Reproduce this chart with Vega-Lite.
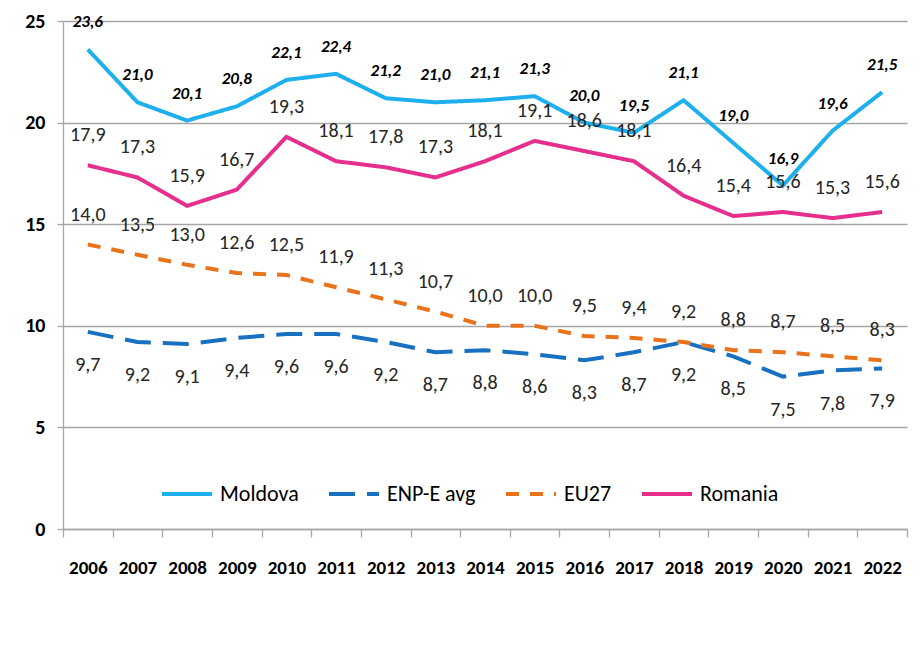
{
  "$schema": "https://vega.github.io/schema/vega-lite/v6.json",
  "width": 844,
  "height": 508,
  "autosize": "none",
  "padding": {"left": 63, "top": 21, "right": 13, "bottom": 116},
  "background": "white",
  "config": {
    "locale": {"number": {"decimal": ",", "thousands": ".", "grouping": [3], "currency": ["", " €"]}},
    "view": {"stroke": null},
    "font": "Carlito, Lato, sans-serif"
  },
  "data": {
    "values": [
      {"year": "2006", "series": "Moldova", "value": 23.6},
      {"year": "2007", "series": "Moldova", "value": 21.0},
      {"year": "2008", "series": "Moldova", "value": 20.1},
      {"year": "2009", "series": "Moldova", "value": 20.8},
      {"year": "2010", "series": "Moldova", "value": 22.1},
      {"year": "2011", "series": "Moldova", "value": 22.4},
      {"year": "2012", "series": "Moldova", "value": 21.2},
      {"year": "2013", "series": "Moldova", "value": 21.0},
      {"year": "2014", "series": "Moldova", "value": 21.1},
      {"year": "2015", "series": "Moldova", "value": 21.3},
      {"year": "2016", "series": "Moldova", "value": 20.0},
      {"year": "2017", "series": "Moldova", "value": 19.5},
      {"year": "2018", "series": "Moldova", "value": 21.1},
      {"year": "2019", "series": "Moldova", "value": 19.0},
      {"year": "2020", "series": "Moldova", "value": 16.9},
      {"year": "2021", "series": "Moldova", "value": 19.6},
      {"year": "2022", "series": "Moldova", "value": 21.5},
      {"year": "2006", "series": "ENP-E avg", "value": 9.7},
      {"year": "2007", "series": "ENP-E avg", "value": 9.2},
      {"year": "2008", "series": "ENP-E avg", "value": 9.1},
      {"year": "2009", "series": "ENP-E avg", "value": 9.4},
      {"year": "2010", "series": "ENP-E avg", "value": 9.6},
      {"year": "2011", "series": "ENP-E avg", "value": 9.6},
      {"year": "2012", "series": "ENP-E avg", "value": 9.2},
      {"year": "2013", "series": "ENP-E avg", "value": 8.7},
      {"year": "2014", "series": "ENP-E avg", "value": 8.8},
      {"year": "2015", "series": "ENP-E avg", "value": 8.6},
      {"year": "2016", "series": "ENP-E avg", "value": 8.3},
      {"year": "2017", "series": "ENP-E avg", "value": 8.7},
      {"year": "2018", "series": "ENP-E avg", "value": 9.2},
      {"year": "2019", "series": "ENP-E avg", "value": 8.5},
      {"year": "2020", "series": "ENP-E avg", "value": 7.5},
      {"year": "2021", "series": "ENP-E avg", "value": 7.8},
      {"year": "2022", "series": "ENP-E avg", "value": 7.9},
      {"year": "2006", "series": "EU27", "value": 14.0},
      {"year": "2007", "series": "EU27", "value": 13.5},
      {"year": "2008", "series": "EU27", "value": 13.0},
      {"year": "2009", "series": "EU27", "value": 12.6},
      {"year": "2010", "series": "EU27", "value": 12.5},
      {"year": "2011", "series": "EU27", "value": 11.9},
      {"year": "2012", "series": "EU27", "value": 11.3},
      {"year": "2013", "series": "EU27", "value": 10.7},
      {"year": "2014", "series": "EU27", "value": 10.0},
      {"year": "2015", "series": "EU27", "value": 10.0},
      {"year": "2016", "series": "EU27", "value": 9.5},
      {"year": "2017", "series": "EU27", "value": 9.4},
      {"year": "2018", "series": "EU27", "value": 9.2},
      {"year": "2019", "series": "EU27", "value": 8.8},
      {"year": "2020", "series": "EU27", "value": 8.7},
      {"year": "2021", "series": "EU27", "value": 8.5},
      {"year": "2022", "series": "EU27", "value": 8.3},
      {"year": "2006", "series": "Romania", "value": 17.9},
      {"year": "2007", "series": "Romania", "value": 17.3},
      {"year": "2008", "series": "Romania", "value": 15.9},
      {"year": "2009", "series": "Romania", "value": 16.7},
      {"year": "2010", "series": "Romania", "value": 19.3},
      {"year": "2011", "series": "Romania", "value": 18.1},
      {"year": "2012", "series": "Romania", "value": 17.8},
      {"year": "2013", "series": "Romania", "value": 17.3},
      {"year": "2014", "series": "Romania", "value": 18.1},
      {"year": "2015", "series": "Romania", "value": 19.1},
      {"year": "2016", "series": "Romania", "value": 18.6},
      {"year": "2017", "series": "Romania", "value": 18.1},
      {"year": "2018", "series": "Romania", "value": 16.4},
      {"year": "2019", "series": "Romania", "value": 15.4},
      {"year": "2020", "series": "Romania", "value": 15.6},
      {"year": "2021", "series": "Romania", "value": 15.3},
      {"year": "2022", "series": "Romania", "value": 15.6}
    ]
  },
  "encoding": {
    "x": {
      "field": "year",
      "type": "ordinal",
      "scale": {"type": "band", "paddingInner": 0, "paddingOuter": 0},
      "axis": {
        "title": null,
        "labelAngle": 0,
        "tickBand": "extent",
        "ticks": true,
        "tickSize": 8,
        "tickWidth": 1.3,
        "tickColor": "#A6A6A6",
        "domainColor": "#A6A6A6",
        "domainWidth": 1.3,
        "labelFontSize": 19,
        "labelFontWeight": "bold",
        "labelColor": "#000000",
        "labelPadding": 21,
        "grid": false
      }
    },
    "y": {
      "field": "value",
      "type": "quantitative",
      "scale": {"domain": [0, 25], "nice": false},
      "axis": {
        "title": null,
        "values": [0, 5, 10, 15, 20, 25],
        "grid": true,
        "gridColor": "#A6A6A6",
        "gridWidth": 1.3,
        "domainColor": "#A6A6A6",
        "domainWidth": 1.3,
        "tickColor": "#A6A6A6",
        "tickWidth": 1.3,
        "tickSize": 6,
        "labelFontSize": 20,
        "labelFontWeight": "bold",
        "labelColor": "#000000",
        "labelPadding": 12
      }
    }
  },
  "layer": [
    {
      "mark": {"type": "line", "strokeWidth": 4, "strokeCap": "butt"},
      "encoding": {
        "color": {
          "field": "series",
          "type": "nominal",
          "scale": {
            "domain": ["Moldova", "ENP-E avg", "EU27", "Romania"],
            "range": ["#1EB0EC", "#1770C0", "#E8731B", "#E62E8D"]
          },
          "legend": {
            "title": null,
            "orient": "none",
            "legendX": 97,
            "legendY": 446,
            "direction": "horizontal",
            "symbolType": "stroke",
            "symbolSize": 2500,
            "symbolStrokeWidth": 4,
            "labelFontSize": 22,
            "labelColor": "#000000",
            "labelOffset": 6,
            "columnPadding": 22,
            "padding": 0
          }
        },
        "strokeDash": {
          "field": "series",
          "type": "nominal",
          "scale": {
            "domain": ["Moldova", "ENP-E avg", "EU27", "Romania"],
            "range": [[1, 0], [26, 12], [13, 11], [1, 0]]
          },
          "legend": {
            "title": null,
            "orient": "none",
            "legendX": 97,
            "legendY": 446,
            "direction": "horizontal",
            "symbolType": "stroke",
            "symbolSize": 2500,
            "symbolStrokeWidth": 4,
            "labelFontSize": 22,
            "labelColor": "#000000",
            "labelOffset": 6,
            "columnPadding": 22,
            "padding": 0
          }
        }
      }
    },
    {
      "transform": [{"filter": "datum.series === 'Moldova'"}],
      "mark": {"type": "text", "fontSize": 17, "fontWeight": "bold", "fontStyle": "italic", "dy": -27, "baseline": "middle", "color": "#000000"},
      "encoding": {"text": {"field": "value", "type": "quantitative", "format": ".1f"}}
    },
    {
      "transform": [{"filter": "datum.series === 'Romania' || datum.series === 'EU27'"}],
      "mark": {"type": "text", "fontSize": 20, "dy": -30, "baseline": "middle", "color": "#262626"},
      "encoding": {"text": {"field": "value", "type": "quantitative", "format": ".1f"}}
    },
    {
      "transform": [{"filter": "datum.series === 'ENP-E avg'"}],
      "mark": {"type": "text", "fontSize": 20, "dy": 33, "baseline": "middle", "color": "#262626"},
      "encoding": {"text": {"field": "value", "type": "quantitative", "format": ".1f"}}
    }
  ]
}
